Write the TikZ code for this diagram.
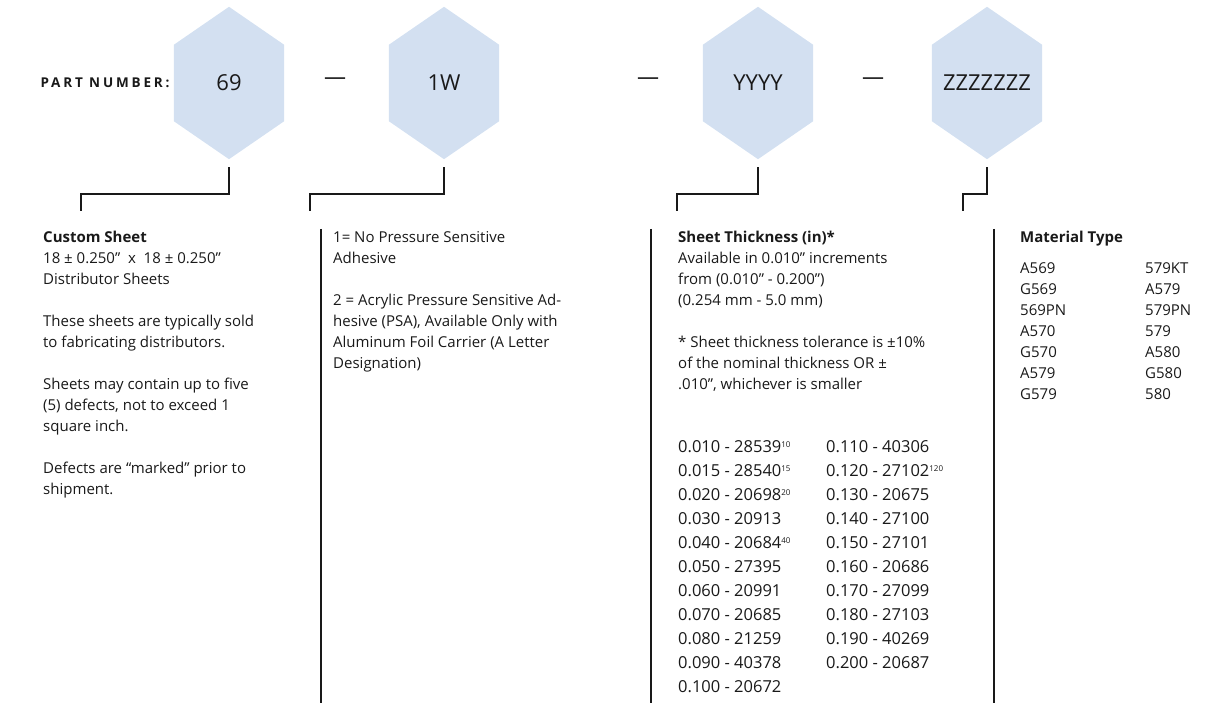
\documentclass[tikz,border=0pt]{standalone}
\usepackage{fontspec}
\setmainfont{Open Sans}
\usetikzlibrary{positioning, backgrounds}
\definecolor{hexblue}{RGB}{211,224,241}
\definecolor{ink}{RGB}{25,25,25}
\newcommand{\note}[1]{\raisebox{5pt}{\fontsize{8}{8}\selectfont #1}}
\tikzstyle{hexcell} = [rectangle, minimum width=110pt, minimum height=152pt, inner sep=0pt, text=ink, font=\fontsize{22}{26}\selectfont]
\tikzstyle{sep} = [text=ink, font=\fontsize{22}{26}\selectfont]
\tikzstyle{bracket} = [line width=2.6pt, draw=ink]
\tikzstyle{divider} = [line width=1.2pt, draw=ink]
\tikzstyle{info} = [anchor=north west, inner sep=0pt, align=left, text=ink, font=\fontsize{15}{21}\selectfont]
\tikzstyle{sizes} = [info, font=\fontsize{16.5}{24}\selectfont]

\begin{document}
\begin{tikzpicture}[x=1pt, y=-1pt]

    \useasboundingbox (0,0) rectangle (1226,703);

    % part number row
    \node (partno) [anchor=west, text=ink, font=\bfseries\fontsize{13.5}{16}\selectfont\addfontfeatures{LetterSpace=21}] at (37,83) {PART NUMBER:};
    \node (hex1) [hexcell] at (229,83) {69};
    \node (hex2) [hexcell] at (444,83) {1W};
    \node (hex3) [hexcell] at (758,83) {YYYY};
    \node (hex4) [hexcell] at (987,83) {ZZZZZZZ};
    \node (dash1) [sep] at (335,81) {—};
    \node (dash2) [sep] at (648,81) {—};
    \node (dash3) [sep] at (873,81) {—};

    \begin{scope}[on background layer]
        \foreach \h in {hex1,hex2,hex3,hex4}
            \fill[hexblue] (\h.north) -- ([yshift=-38pt]\h.north east) -- ([yshift=38pt]\h.south east)
                -- (\h.south) -- ([yshift=38pt]\h.south west) -- ([yshift=-38pt]\h.north west) -- cycle;
    \end{scope}

    % brackets
    \coordinate (tip1) at (81,211);
    \coordinate (tip2) at (310,211);
    \coordinate (tip3) at (677,211);
    \coordinate (tip4) at (963,211);
    \draw [bracket] ([yshift=-8pt]hex1.south) -- ++(0,27) -| (tip1);
    \draw [bracket] ([yshift=-8pt]hex2.south) -- ++(0,27) -| (tip2);
    \draw [bracket] ([yshift=-8pt]hex3.south) -- ++(0,27) -| (tip3);
    \draw [bracket] ([yshift=-8pt]hex4.south) -- ++(0,27) -| (tip4);

    \draw [divider] (321,229) -- (321,703);
    \draw [divider] (651,229) -- (651,703);
    \draw [divider] (994,229) -- (994,703);

    % columns
    \node (custom) [info] at (43,231) {\textbf{Custom Sheet}\\
        18 ± 0.250"\ \ x\ \ 18 ± 0.250"\\
        Distributor Sheets\\[21pt]
        These sheets are typically sold\\
        to fabricating distributors.\\[21pt]
        Sheets may contain up to five\\
        (5) defects, not to exceed 1\\
        square inch.\\[21pt]
        Defects are “marked” prior to\\
        shipment.};

    \node (psa) [info] at (333,231) {1= No Pressure Sensitive\\
        Adhesive\\[21pt]
        2 = Acrylic Pressure Sensitive Ad-\\
        hesive (PSA), Available Only with\\
        Aluminum Foil Carrier (A Letter\\
        Designation)};

    \node (thick) [info] at (678,231) {\textbf{Sheet Thickness (in)*}\\
        Available in 0.010" increments\\
        from (0.010" - 0.200")\\
        (0.254 mm - 5.0 mm)\\[21pt]
        * Sheet thickness tolerance is ±10\%\\
        of the nominal thickness OR ±\\
        .010", whichever is smaller};

    \node (sizesA) [sizes] at (678,440) {0.010 - 28539\note{10}\\
        0.015 - 28540\note{15}\\
        0.020 - 20698\note{20}\\
        0.030 - 20913\\
        0.040 - 20684\note{40}\\
        0.050 - 27395\\
        0.060 - 20991\\
        0.070 - 20685\\
        0.080 - 21259\\
        0.090 - 40378\\
        0.100 - 20672};
    \node (sizesB) [sizes] at (826,440) {0.110 - 40306\\
        0.120 - 27102\note{120}\\
        0.130 - 20675\\
        0.140 - 27100\\
        0.150 - 27101\\
        0.160 - 20686\\
        0.170 - 27099\\
        0.180 - 27103\\
        0.190 - 40269\\
        0.200 - 20687};

    \node (material) [info] at (1020,231) {\textbf{Material Type}};
    \node (gradesA) [info] at (1020,262) {A569\\ G569\\ 569PN\\ A570\\ G570\\ A579\\ G579};
    \node (gradesB) [info] at (1145,262) {579KT\\ A579\\ 579PN\\ 579\\ A580\\ G580\\ 580};

\end{tikzpicture}
\end{document}
